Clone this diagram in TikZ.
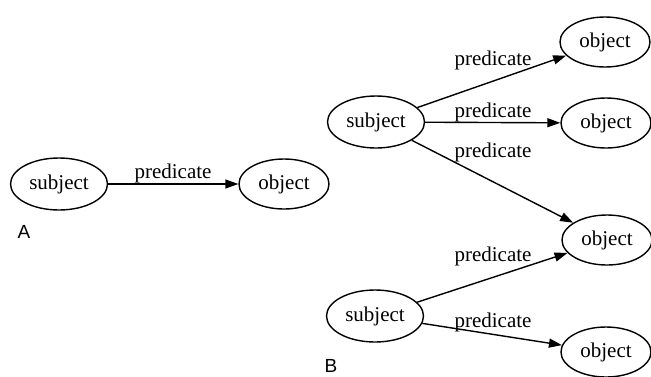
\documentclass[tikz,border=0pt]{standalone}
\usepackage{fontspec}
\setmainfont{Liberation Serif}
\newfontfamily\labelsans{Liberation Sans}
\usetikzlibrary{shapes.geometric,arrows.meta}
\begin{document}
\begin{tikzpicture}[x=1pt,y=-1pt,
  res/.style={draw, ellipse, line width=1.4pt, inner sep=0pt, font=\fontsize{21}{25}\selectfont},
  subj/.style={res, minimum width=97pt, minimum height=52pt},
  obj/.style={res, minimum width=90pt, minimum height=50pt},
  conn/.style={line width=1.4pt, -{Triangle[length=13pt,width=9pt]}},
  lbl/.style={inner sep=0pt, font=\fontsize{21}{25}\selectfont},
  tag/.style={inner sep=0pt, font=\labelsans\fontsize{19}{22}\selectfont}]
\useasboundingbox (0,0) rectangle (651,376);
% A
\node[subj] (sA) at (59,184) {subject};
\node[obj]  (oA) at (284,184) {object};
\draw[conn] (sA) -- (oA);
\node[lbl] (lA) at (173,173) {predicate};
\node[tag] (tA) at (24,232) {A};
% B
\node[subj] (sB1) at (376,122) {subject};
\node[subj] (sB2) at (375,316) {subject};
\node[obj] (o1) at (605,42) {object};
\node[obj] (o2) at (606,123) {object};
\node[obj] (o3) at (607,240) {object};
\node[obj] (o4) at (606,352) {object};
\draw[conn] (sB1) -- (o1);
\draw[conn] (sB1) -- (o2);
\draw[conn] (sB1) -- (o3);
\draw[conn] (sB2) -- (o3);
\draw[conn] (sB2) -- (o4);
\node[lbl] (l1) at (493,60) {predicate};
\node[lbl] (l2) at (493,112) {predicate};
\node[lbl] (l3) at (493,152) {predicate};
\node[lbl] (l4) at (493,256) {predicate};
\node[lbl] (l5) at (493,322) {predicate};
\node[tag] (tB) at (331,366) {B};
\end{tikzpicture}
\end{document}
